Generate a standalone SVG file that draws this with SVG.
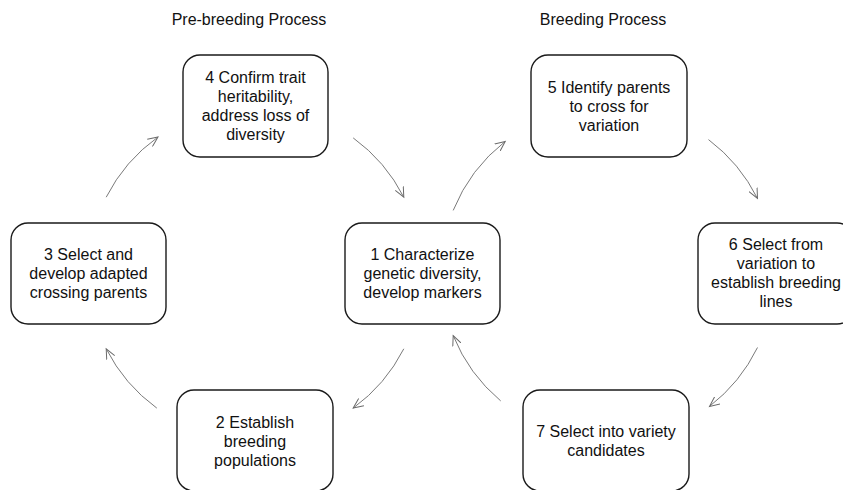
<svg xmlns="http://www.w3.org/2000/svg" width="843" height="490" viewBox="0 0 843 490">
<style>
.box{fill:#fff;stroke:#1a1a1a;stroke-width:1.4}
.t{font-family:"Liberation Sans",Arial,sans-serif;font-size:16px;fill:#111;text-anchor:middle}
.title{font-family:"Liberation Sans",Arial,sans-serif;font-size:16px;fill:#111;text-anchor:middle}
.c{fill:none;stroke:#7a7a7a;stroke-width:1;marker-end:url(#arr)}
</style>
<defs>
<marker id="arr" markerWidth="12" markerHeight="10" viewBox="0 0 12 10" refX="10" refY="5" orient="auto" markerUnits="userSpaceOnUse">
<path d="M0,0.5 L10,5 L0,9.5" fill="none" stroke="#6a6a6a" stroke-width="1"/>
</marker>
</defs>
<rect width="843" height="490" fill="#fff"/>
<text class="title" x="249" y="25">Pre-breeding Process</text>
<text class="title" x="603" y="25">Breeding Process</text>

<g id="connectors">
<path class="c" d="M353.2,137.9 A167,167 0 0 1 403.8,197.2"/>
<path class="c" d="M403.8,348.8 A167,167 0 0 1 353.2,408.1"/>
<path class="c" d="M156.8,408.1 A167,167 0 0 1 106.2,348.8"/>
<path class="c" d="M106.2,197.2 A167,167 0 0 1 158,137"/>
<path class="c" d="M453.2,210.4 A167,167 0 0 1 505.2,141.4"/>
<path class="c" d="M708.5,139.6 A167,167 0 0 1 757.5,198.5"/>
<path class="c" d="M757.5,347.5 A167,167 0 0 1 709.5,406.4"/>
<path class="c" d="M500.7,400.9 A167,167 0 0 1 453.2,335.6"/>
</g>

<g id="n4">
<rect class="box" x="183" y="55" width="145" height="102" rx="17"/>
<text class="t" x="255.5"><tspan x="255.5" y="83">4 Confirm trait</tspan><tspan x="255.5" y="102">heritability,</tspan><tspan x="255.5" y="121">address loss of</tspan><tspan x="255.5" y="140">diversity</tspan></text>
</g>
<g id="n5">
<rect class="box" x="531" y="55" width="156" height="102" rx="17"/>
<text class="t"><tspan x="609" y="93">5 Identify parents</tspan><tspan x="609" y="112">to cross for</tspan><tspan x="609" y="131">variation</tspan></text>
</g>
<g id="n3">
<rect class="box" x="11" y="223" width="155" height="101" rx="17"/>
<text class="t"><tspan x="88.5" y="260">3 Select and</tspan><tspan x="88.5" y="279">develop adapted</tspan><tspan x="88.5" y="298">crossing parents</tspan></text>
</g>
<g id="n1">
<rect class="box" x="345" y="223" width="155" height="101" rx="17"/>
<text class="t"><tspan x="422.5" y="260">1 Characterize</tspan><tspan x="422.5" y="279">genetic diversity,</tspan><tspan x="422.5" y="298">develop markers</tspan></text>
</g>
<g id="n6">
<rect class="box" x="698" y="223" width="156" height="101" rx="17"/>
<text class="t"><tspan x="776" y="250">6 Select from</tspan><tspan x="776" y="269">variation to</tspan><tspan x="776" y="288">establish breeding</tspan><tspan x="776" y="307">lines</tspan></text>
</g>
<g id="n2">
<rect class="box" x="177" y="390" width="156" height="101" rx="17"/>
<text class="t"><tspan x="255" y="428">2 Establish</tspan><tspan x="255" y="447">breeding</tspan><tspan x="255" y="466">populations</tspan></text>
</g>
<g id="n7">
<rect class="box" x="523" y="390" width="166" height="101" rx="17"/>
<text class="t"><tspan x="606" y="437">7 Select into variety</tspan><tspan x="606" y="456">candidates</tspan></text>
</g>
</svg>
